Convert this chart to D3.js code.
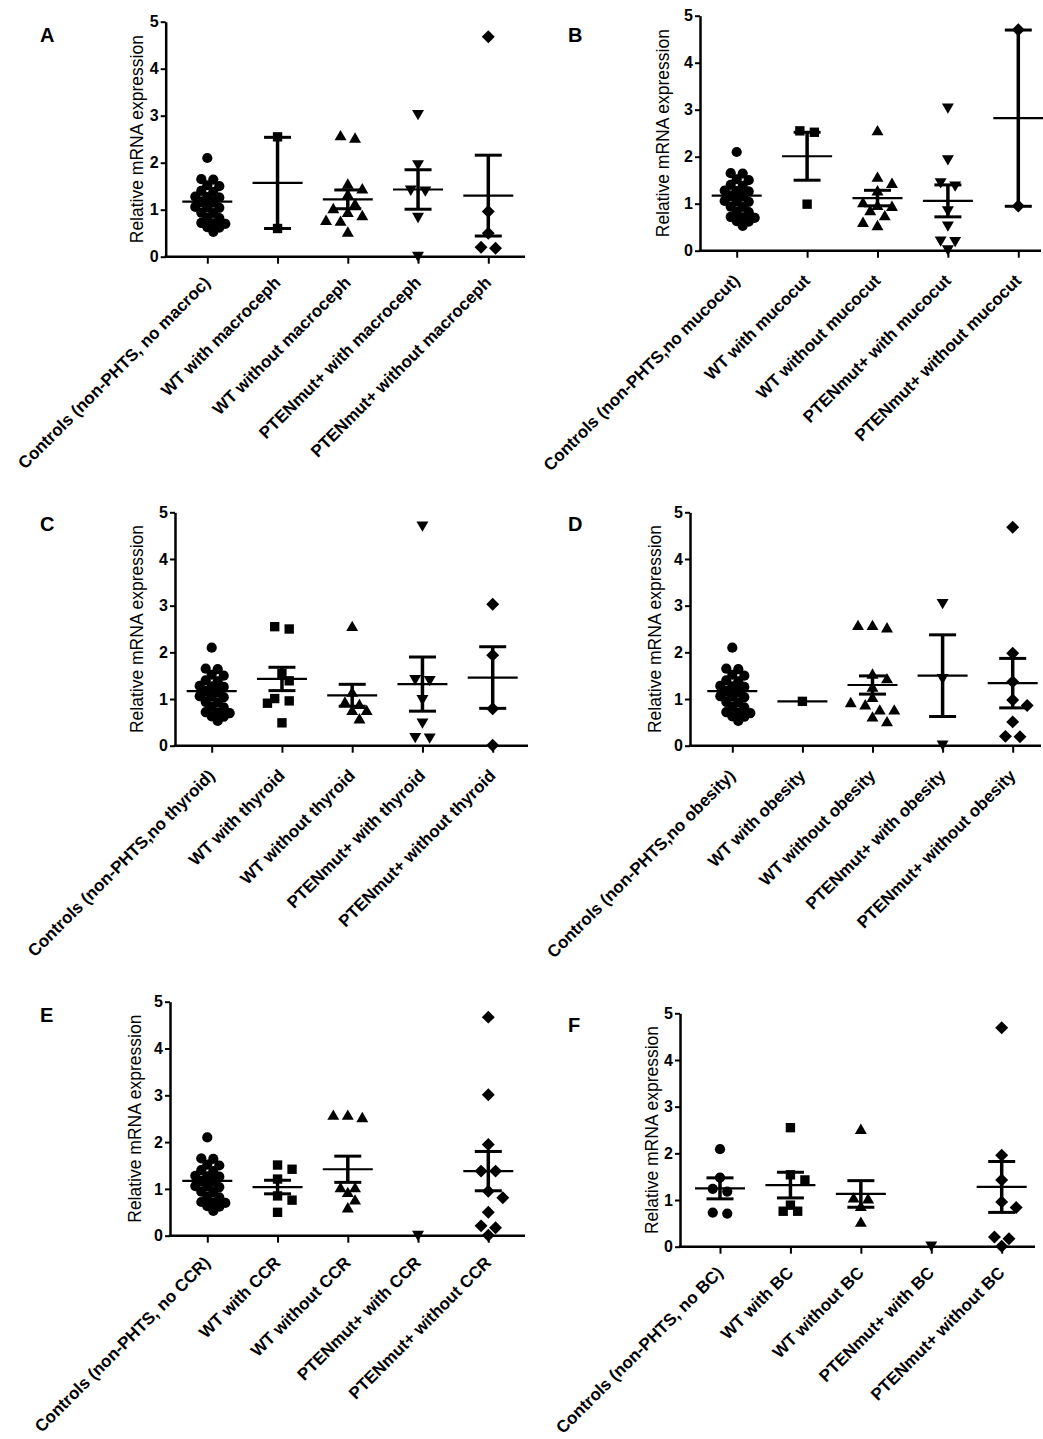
<!DOCTYPE html>
<html><head><meta charset="utf-8">
<script src="https://cdn.jsdelivr.net/npm/d3@7"></script>
<style>
body{margin:0;background:#fff}
svg{display:block}
text{font-family:"Liberation Sans",Arial,Helvetica,sans-serif;fill:#000}
</style>
</head><body>
<svg id="chart" width="1043" height="1439"></svg>
<script>
// ---------------- DATA ----------------
const yTicks = [0, 1, 2, 3, 4, 5];
const yTitle = "Relative mRNA expression";
const panelLetters = ["A", "B", "C", "D", "E", "F"];

const controls = [2.1, 1.65, 1.64, 1.52, 1.5, 1.4, 1.38, 1.28, 1.27, 1.26, 1.16, 1.15,
                  1.06, 1.05, 1.04, 0.94, 0.93, 0.83, 0.82, 0.72, 0.71, 0.7, 0.63, 0.62, 0.53];

const catsA = ["Controls (non-PHTS, no macroc)", "WT with macroceph", "WT without macroceph",
               "PTENmut+ with macroceph", "PTENmut+ without macroceph"];
const valsA = [controls, [2.55, 0.6],
               [2.55, 2.5, 1.52, 1.42, 1.3, 1.1, 1.0, 0.92, 0.85, 0.75, 0.73, 0.5],
               [3.05, 1.98, 1.44, 1.42, 0.86, 0.03],
               [4.68, 0.96, 0.5, 0.18, 0.2]];
const meansA = [1.17, 1.57, 1.22, 1.43, 1.30];
const semsA  = [0.08, 0.97, 0.2, 0.42, 0.86];

const catsB = ["Controls (non-PHTS,no mucocut)", "WT with mucocut", "WT without mucocut",
               "PTENmut+ with mucocut", "PTENmut+ without mucocut"];
const valsB = [controls, [2.55, 2.52, 0.99],
               [2.53, 1.54, 1.41, 1.25, 1.0, 0.94, 0.92, 0.83, 0.72, 0.58, 0.51],
               [3.06, 1.96, 1.47, 1.40, 0.87, 0.55, 0.23, 0.22, 0.04],
               [4.7, 0.95]];
const meansB = [1.17, 2.01, 1.12, 1.06, 2.82];
const semsB  = [0.08, 0.51, 0.165, 0.34, 1.875];

const catsC = ["Controls (non-PHTS,no thyroid)", "WT with thyroid", "WT without thyroid",
               "PTENmut+ with thyroid", "PTENmut+ without thyroid"];
const valsC = [controls, [2.55, 2.5, 1.55, 1.39, 1.01, 0.96, 0.91, 0.49],
               [2.53, 1.12, 0.91, 0.86, 0.73, 0.73, 0.55],
               [4.73, 1.44, 1.42, 1.01, 0.51, 0.19, 0.2],
               [3.03, 1.94, 0.79, 0.01]];
const meansC = [1.17, 1.43, 1.08, 1.32, 1.46];
const semsC  = [0.08, 0.25, 0.235, 0.58, 0.66];

const catsD = ["Controls (non-PHTS,no obesity)", "WT with obesity", "WT without obesity",
               "PTENmut+ with obesity", "PTENmut+ without obesity"];
const valsD = [controls, [0.95],
               [2.55, 2.5, 2.55, 1.51, 1.41, 1.23, 1.01, 0.9, 0.85, 0.74, 0.74, 0.59, 0.49],
               [3.07, 1.46, 0.04],
               [4.68, 1.98, 1.37, 0.98, 0.86, 0.51, 0.19, 0.2]];
const meansD = [1.17, 0.95, 1.30, 1.5, 1.34];
const semsD  = [0.08, null, 0.195, 0.875, 0.53];

const catsE = ["Controls (non-PHTS, no CCR)", "WT with CCR", "WT without CCR",
               "PTENmut+ with CCR", "PTENmut+ without CCR"];
const valsE = [controls, [1.51, 1.42, 1.21, 0.85, 0.76, 0.5],
               [2.55, 2.5, 2.55, 1.0, 1.0, 0.9, 0.74, 0.57],
               [0.03],
               [4.67, 3.01, 1.95, 1.38, 1.38, 0.95, 0.81, 0.5, 0.21, 0.17, 0.01]];
const meansE = [1.17, 1.04, 1.42, null, 1.38];
const semsE  = [0.08, 0.145, 0.28, null, 0.42];

const catsF = ["Controls (non-PHTS, no BC)", "WT with BC", "WT without BC",
               "PTENmut+ with BC", "PTENmut+ without BC"];
const valsF = [[2.09, 1.48, 1.24, 1.18, 0.71, 0.73],
               [2.55, 1.54, 1.43, 0.89, 0.76, 0.76],
               [2.49, 1.0, 1.02, 0.84, 0.5],
               [0.04],
               [4.69, 1.96, 1.43, 0.96, 0.84, 0.21, 0.17, 0.01]];
const meansF = [1.25, 1.32, 1.13, null, 1.28];
const semsF  = [0.225, 0.275, 0.285, null, 0.545];

// ---------------- LAYOUT ----------------
const layout = [
  {x0: 165.7, x1: 525,  t0: 207.3, t1: 488.3,  yb: 256.7,  yt: 21.7,   titleX: 143, lx: 40, ly: 42,   ldy: 27},
  {x0: 700,   x1: 1041, t0: 736.7, t1: 1018.3, yb: 250.7,  yt: 15.7,   titleX: 669, lx: 568, ly: 42,  ldy: 31},
  {x0: 175,   x1: 528,  t0: 211.7, t1: 492.7,  yb: 745.7,  yt: 512.3,  titleX: 143, lx: 40, ly: 531,  ldy: 31},
  {x0: 690,   x1: 1041, t0: 732.3, t1: 1012.7, yb: 745.7,  yt: 512.3,  titleX: 661, lx: 568, ly: 531, ldy: 31},
  {x0: 170,   x1: 525,  t0: 207.3, t1: 488.3,  yb: 1235.7, yt: 1001.7, titleX: 141, lx: 40, ly: 1022, ldy: 28},
  {x0: 680,   x1: 1035, t0: 720,   t1: 1001.7, yb: 1246.7, yt: 1013.3, titleX: 658, lx: 568, ly: 1032, ldy: 27}
];

const panels = [
  {cats: catsA, vals: valsA, means: meansA, sems: semsA},
  {cats: catsB, vals: valsB, means: meansB, sems: semsB},
  {cats: catsC, vals: valsC, means: meansC, sems: semsC},
  {cats: catsD, vals: valsD, means: meansD, sems: semsD},
  {cats: catsE, vals: valsE, means: meansE, sems: semsE},
  {cats: catsF, vals: valsF, means: meansF, sems: semsF}
];

// marker styles per group position
const symTypes = [d3.symbolCircle, d3.symbolSquare, d3.symbolTriangle, d3.symbolTriangle, d3.symbolSquare];
const symSizes = [82, 88, 62, 62, 84];
const symRot   = [0, 0, 0, 180, 45];

const svg = d3.select("#chart");
svg.append("rect").attr("width", 1043).attr("height", 1439).attr("fill", "#fff");

// row-based scatter layout (GraphPad-like): near-equal values side by side, centred
function swarm(values, y) {
  const big = values.length > 15;
  const sp = big ? 12 : 14.5, minD = big ? 7 : 10, binPx = 4;
  const pts = values.map(v => ({v, py: y(v)})).sort((a, b) => d3.descending(a.v, b.v));
  const rows = [];
  pts.forEach(p => {
    const r = rows[rows.length - 1];
    if (r && Math.abs(p.py - r[0].py) < binPx) r.push(p); else rows.push([p]);
  });
  const placed = [];
  rows.forEach(r => {
    const base = r.map((p, i) => (i - (r.length - 1) / 2) * sp);
    const shifts = [0, sp / 2, -sp / 2, sp, -sp];
    let bestShift = 0, bestScore = -Infinity;
    for (const s of shifts) {
      let md = Infinity;
      r.forEach((p, i) => placed.forEach(q => {
        md = Math.min(md, Math.hypot(q.dx - (base[i] + s), q.py - p.py));
      }));
      if (md >= minD) { bestShift = s; bestScore = Infinity; break; }
      if (md > bestScore) { bestScore = md; bestShift = s; }
    }
    r.forEach((p, i) => { p.dx = base[i] + bestShift; placed.push(p); });
  });
  return placed;
}

panels.forEach((P, pi) => {
  const L = layout[pi];
  const g = svg.append("g");
  const y = d3.scaleLinear().domain([0, 5]).range([L.yb, L.yt]);
  const x = d3.scalePoint().domain(P.cats).range([L.t0, L.t1]);

  // panel letter
  g.append("text").attr("x", L.lx).attr("y", L.ly)
    .style("font-size", "20px").style("font-weight", "bold").text(panelLetters[pi]);

  // y axis
  const ya = g.append("g").attr("transform", `translate(${L.x0},0)`)
    .call(d3.axisLeft(y).tickValues(yTicks).tickSize(5).tickSizeOuter(0).tickPadding(2).tickFormat(d3.format("d")));
  ya.select(".domain").attr("stroke", "#000").attr("stroke-width", 2.5);
  ya.selectAll(".tick line").attr("stroke", "#000").attr("stroke-width", 2);
  ya.selectAll(".tick text").style("font-size", "16px").style("font-weight", "bold")
    .style("font-family", "'Liberation Sans',Arial,sans-serif").attr("fill", "#000");

  // x axis
  g.append("line").attr("x1", L.x0 - 1.2).attr("x2", L.x1).attr("y1", L.yb).attr("y2", L.yb)
    .attr("stroke", "#000").attr("stroke-width", 2.5);
  const xa = g.append("g").attr("transform", `translate(0,${L.yb})`)
    .call(d3.axisBottom(x).tickSize(7).tickFormat(""));
  xa.select(".domain").remove();
  xa.selectAll(".tick line").attr("stroke", "#000").attr("stroke-width", 2);

  // category labels
  g.selectAll(".cat").data(P.cats).enter().append("text")
    .attr("transform", d => `translate(${x(d) + 4},${L.yb + L.ldy}) rotate(-45)`)
    .attr("text-anchor", "end")
    .style("font-size", "17px").style("font-weight", "bold")
    .text(d => d);

  // y title
  g.append("text")
    .attr("transform", `translate(${L.titleX},${(L.yb + L.yt) / 2}) rotate(-90)`)
    .attr("text-anchor", "middle").style("font-size", "17.5px")
    .text(yTitle);

  // points, mean and SEM
  P.vals.forEach((vals, gi) => {
    const cx = x(P.cats[gi]);
    const pts = swarm(vals, y);
    const sym = d3.symbol().type(symTypes[gi]).size(symSizes[gi]);
    g.selectAll(null).data(pts).enter().append("path")
      .attr("d", sym)
      .attr("transform", d => `translate(${cx + d.dx},${d.py}) rotate(${symRot[gi]})`)
      .attr("fill", "#000");

    const m = P.means[gi], s = P.sems[gi];
    if (m != null) {
      g.append("line").attr("x1", cx - 25).attr("x2", cx + 25)
        .attr("y1", y(m)).attr("y2", y(m)).attr("stroke", "#000").attr("stroke-width", 2.2);
      if (s != null) {
        g.append("line").attr("x1", cx).attr("x2", cx)
          .attr("y1", y(m + s)).attr("y2", y(m - s)).attr("stroke", "#000").attr("stroke-width", 3.5);
        [m + s, m - s].forEach(v => {
          g.append("line").attr("x1", cx - 13.5).attr("x2", cx + 13.5)
            .attr("y1", y(v)).attr("y2", y(v)).attr("stroke", "#000").attr("stroke-width", 3);
        });
      }
    }
  });
});
</script>
</body></html>
